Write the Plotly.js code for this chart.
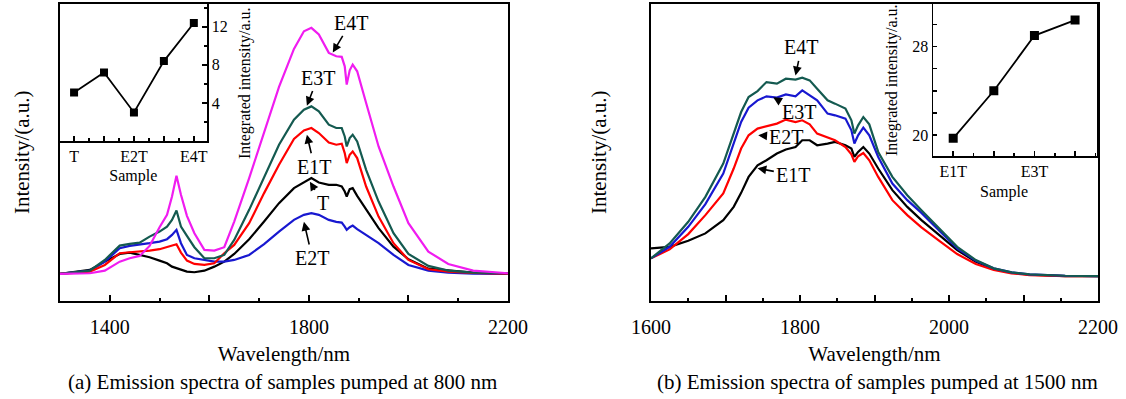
<!DOCTYPE html>
<html>
<head>
<meta charset="utf-8">
<script src="https://cdn.plot.ly/plotly-3.0.1.min.js"></script>
<style>html,body{margin:0;padding:0;background:#fff;}#chart{width:1126px;height:399px;}</style>
</head>
<body>
<div id="chart"></div>
<script>
// ---------- Panel (a): pumped at 800 nm ----------
const wavelengthA = [1300,1360,1390,1420,1440,1460,1480,1500,1515,1525,1534,1543,1555,1570,1590,1610,1630,1650,1680,1710,1740,1770,1790,1805,1820,1840,1855,1866,1872,1876,1882,1888,1897,1915,1940,1970,2000,2040,2080,2130,2200];
const a_T   = [0,4,12.3,20,21.3,19,16.7,13.3,10.7,7.3,5.7,4,2.3,1.7,3.3,7.3,12.3,20,34.7,52.3,70.7,85.7,91.3,95.7,91.3,89,89,87.3,82.3,77.3,84.7,85.7,78,64,45.7,27.3,14.7,5.3,3.3,1.3,0];
const a_E1T = [0,2.3,9,20.7,21.7,22.3,23.3,24.7,26.7,28,29.7,21.3,13.3,10,9,10.7,20.7,29,50.7,80.7,109,134.7,143.3,145.7,140.7,131.3,129,130,120.7,110.7,119,122.3,115.7,87.3,57.3,30.7,14,4.7,2.3,1,0.3];
const a_E2T = [0,3.3,12.3,25.7,28,29,30.7,32.3,34.7,39,44,30.7,19,15.7,14,12.3,12.3,14,19,29.7,42.3,54,59,60.7,59,54,52,51.3,47.3,44,46.7,48.3,44.7,39,30.7,19,9,3.3,1.3,0.3,0];
const a_E3T = [0,3.3,14,28.3,30,31.3,37.3,42.3,47.3,54,63.3,47.3,38,26.7,15.7,15.7,19,34,64,97.3,129,154,164,167.3,162.3,149,145.7,145.7,137.3,127.3,135.7,139,132.3,104,72.3,40.7,20,8,3.3,1.3,0.7];
const a_E4T = [0,0.7,3.3,12.3,15.7,18,28,46.7,59,77.3,98,79,58,40.7,24,23.3,26.7,52.3,95.7,142.3,186.7,224.7,242.3,245.7,239,220.7,217.3,216.7,207.3,189,203.3,209,202.3,170.7,127.3,87.3,50.7,22.3,10,3.3,0.7];

// inset (a)
const samplesA = ['T','E1T','E2T','E3T','E4T'];
const integratedA = [5.1, 7.2, 3.0, 8.4, 12.4];

// ---------- Panel (b): pumped at 1500 nm ----------
const wavelengthB = [1600,1625,1650,1673,1697,1711,1721,1731,1743,1755,1769,1781,1794,1803,1813,1823,1837,1847,1861,1869,1873,1878,1885,1893,1905,1924,1944,1963,1987,2011,2036,2060,2084,2108,2156,2200];
const b_E1T = [27.7,29.3,35.3,42.7,56,69.3,83.3,99.3,111,116,122.7,126.7,129.3,136,136,131,132.7,134.3,131,127.7,119.3,124.3,129.3,122.7,107.7,86,69.3,56,41,26,14.3,7,3.3,1.3,0,0];
const b_E2T = [17.7,26.7,42,61,82.7,107.7,127.7,141,147.7,150,152.7,156.7,154.3,156,152,142.7,138.7,136,129.3,122,114.3,120,123.3,116,99.3,76,61,48.7,35.3,22,12,6,2.7,1,0,0];
const b_E3T = [17.7,29.3,49.3,72,102.7,132,154.3,168.7,176,180,178.7,182,180,186,181,176,162.7,161,157.7,146,132.7,141,148.7,141,119.3,92.7,76,63.3,45.3,27.7,15.3,7.7,3.7,1.7,0.3,0];
const b_E4T = [17.7,32.7,54.3,79.3,112.7,142.7,164.3,179.3,185.3,194.3,192.7,197.7,196.7,198.7,196,187.7,176,172.7,167.7,156,142.7,151,159.3,152,124.3,99.3,81,66,47.7,29.3,16,7.7,3.7,1.7,0.3,0];

// inset (b)
const samplesB = ['E1T','E2T','E3T','E4T'];
const integratedB = [19.7, 24.0, 29.0, 30.4];

// tick labels
const tickA = [1400,1600,1800,2000,2200];
const tickTextA = ['1400','','1800','','2200'];
const tickB = [1600,1700,1800,1900,2000,2100,2200];
const tickTextB = ['1600','','1800','','2000','','2200'];

const COL = {T:'#000000', E1T:'#ff0000', E2T:'#1818d0', E3T:'#145a50', E4T:'#f01cf0'};
const FONT = 'Liberation Serif, Times New Roman, serif';

function line(x, y, name, color, xa, ya) {
  return {x:x, y:y, name:name, type:'scatter', mode:'lines', xaxis:xa, yaxis:ya,
          line:{color:color, width:2.2}, hoverinfo:'x+y+name'};
}

const traces = [
  line(wavelengthA, a_T,   'T',   COL.T,   'x', 'y'),
  line(wavelengthA, a_E2T, 'E2T', COL.E2T, 'x', 'y'),
  line(wavelengthA, a_E1T, 'E1T', COL.E1T, 'x', 'y'),
  line(wavelengthA, a_E3T, 'E3T', COL.E3T, 'x', 'y'),
  line(wavelengthA, a_E4T, 'E4T', COL.E4T, 'x', 'y'),
  {x: samplesA.map((s,i)=>i), y: integratedA, text: samplesA, type:'scatter', mode:'lines+markers',
   xaxis:'x2', yaxis:'y2', line:{color:'#000', width:1.8}, marker:{symbol:'square', size:8, color:'#000'}, name:'Integrated (a)'},
  line(wavelengthB, b_E1T, 'E1T', COL.T,   'x3', 'y3'),
  line(wavelengthB, b_E2T, 'E2T', COL.E1T, 'x3', 'y3'),
  line(wavelengthB, b_E3T, 'E3T', COL.E2T, 'x3', 'y3'),
  line(wavelengthB, b_E4T, 'E4T', COL.E3T, 'x3', 'y3'),
  {x: samplesB.map((s,i)=>i), y: integratedB, text: samplesB, type:'scatter', mode:'lines+markers',
   xaxis:'x4', yaxis:'y4', line:{color:'#000', width:1.8}, marker:{symbol:'square', size:9, color:'#000'}, name:'Integrated (b)'}
];

const W = 1126, H = 399;
const px = v => v / W;
const py = v => 1 - v / H;

const frame = {showline:true, mirror:true, linecolor:'#000', linewidth:2, showgrid:false, zeroline:false};
const tf = {family:FONT, size:20, color:'#000'};
const tfs = {family:FONT, size:16, color:'#000'};

const layout = {
  width:W, height:H, showlegend:false,
  margin:{l:0, r:0, t:0, b:0},
  paper_bgcolor:'#fff', plot_bgcolor:'rgba(0,0,0,0)',
  font:{family:FONT, color:'#000'},
  xaxis: Object.assign({}, frame, {domain:[px(60), px(508)], range:[1300,2200], anchor:'y',
    tickmode:'array', tickvals:tickA, ticktext:tickTextA, ticks:'inside', ticklen:6, tickwidth:2, tickcolor:'#000',
    minor:{dtick:100, ticks:'inside', ticklen:3, tickwidth:2, tickcolor:'#000'},
    tickfont:tf, ticklabelstandoff:7,
    title:{text:'Wavelength/nm', font:{family:FONT, size:21, color:'#000'}, standoff:9}}),
  yaxis: Object.assign({}, frame, {domain:[py(301), py(3.5)], range:[-27,270], anchor:'x',
    ticks:'', showticklabels:false,
    title:{text:'Intensity/(a.u.)', font:{family:FONT, size:21, color:'#000'}, standoff:23}}),
  xaxis2: Object.assign({}, frame, {domain:[px(60), px(206.7)], range:[-0.47, 4.43], anchor:'y2',
    tickmode:'array', tickvals:[0,1,2,3,4], ticktext:['T','','E2T','','E4T'], ticks:'inside', ticklen:5, tickwidth:1.5, tickcolor:'#000',
    minor:{dtick:0.5, ticks:'inside', ticklen:3, tickwidth:1.5, tickcolor:'#000'},
    tickfont:tfs, linewidth:1.8,
    title:{text:'Sample', font:tfs, standoff:6}}),
  yaxis2: Object.assign({}, frame, {domain:[py(141), py(3.5)], range:[0, 14.45], anchor:'x2', side:'right',
    tickmode:'array', tickvals:[4,8,12], ticks:'inside', ticklen:5, tickwidth:1.5, tickcolor:'#000',
    minor:{dtick:2, ticks:'inside', ticklen:3, tickwidth:1.5, tickcolor:'#000'},
    tickfont:tfs, linewidth:1.8}),
  xaxis3: Object.assign({}, frame, {domain:[px(651), px(1098)], range:[1600,2200], anchor:'y3',
    tickmode:'array', tickvals:tickB, ticktext:tickTextB, ticks:'inside', ticklen:6, tickwidth:2, tickcolor:'#000',
    minor:{dtick:50, ticks:'inside', ticklen:3, tickwidth:2, tickcolor:'#000'},
    tickfont:tf, ticklabelstandoff:7,
    title:{text:'Wavelength/nm', font:{family:FONT, size:21, color:'#000'}, standoff:9}}),
  yaxis3: Object.assign({}, frame, {domain:[py(301), py(3.5)], range:[-25,273], anchor:'x3',
    ticks:'', showticklabels:false,
    title:{text:'Intensity/(a.u.)', font:{family:FONT, size:21, color:'#000'}, standoff:37}}),
  xaxis4: Object.assign({}, frame, {domain:[px(933.3), px(1097)], range:[-0.49, 3.54], anchor:'y4',
    tickmode:'array', tickvals:[0,1,2,3], ticktext:['E1T','','E3T',''], ticks:'inside', ticklen:5, tickwidth:1.5, tickcolor:'#000',
    minor:{dtick:0.5, ticks:'inside', ticklen:3, tickwidth:1.5, tickcolor:'#000'},
    tickfont:tfs, linewidth:1.8}),
  yaxis4: Object.assign({}, frame, {domain:[py(156), py(3.5)], range:[18.1, 31.9], anchor:'x4', side:'left',
    tickmode:'array', tickvals:[20,22,24,26,28,30], ticktext:['20','','','','28',''], ticks:'inside', ticklen:4, tickwidth:1.5, tickcolor:'#000',
    tickfont:tfs, linewidth:1.8}),
  annotations: [
    // panel (a) labels
    {xref:'x', yref:'y', x:1848, y:221, ax:1884, ay:251, axref:'x', ayref:'y', text:'E4T'},
    {xref:'x', yref:'y', x:1796, y:168, ax:1818, ay:196, axref:'x', ayref:'y', text:'E3T'},
    {xref:'x', yref:'y', x:1796, y:139, ax:1811, ay:107, axref:'x', ayref:'y', text:'E1T'},
    {xref:'x', yref:'y', x:1802, y:92,  ax:1828, ay:71,  axref:'x', ayref:'y', text:'T'},
    {xref:'x', yref:'y', x:1790, y:52,  ax:1807, ay:16,  axref:'x', ayref:'y', text:'E2T'},
    // panel (b) labels
    {xref:'x3', yref:'y3', x:1794, y:201, ax:1802, ay:229, axref:'x3', ayref:'y3', text:'E4T'},
    {xref:'x3', yref:'y3', x:1764, y:179, ax:1798, ay:164, axref:'x3', ayref:'y3', text:'E3T'},
    {xref:'x3', yref:'y3', x:1744, y:141, ax:1781, ay:139, axref:'x3', ayref:'y3', text:'E2T'},
    {xref:'x3', yref:'y3', x:1743, y:108, ax:1791, ay:101, axref:'x3', ayref:'y3', text:'E1T'},
    // inset titles
    {xref:'paper', yref:'paper', x:px(245), y:py(83), xanchor:'center', yanchor:'middle', showarrow:false, textangle:-90,
     text:'Integrated intensity/a.u.', font:tfs},
    {xref:'paper', yref:'paper', x:px(892), y:py(80), xanchor:'center', yanchor:'middle', showarrow:false, textangle:-90,
     text:'Integrated intensity/a.u.', font:tfs},
    {xref:'paper', yref:'paper', x:px(1004), y:py(192), xanchor:'center', yanchor:'middle', showarrow:false,
     text:'Sample', font:tfs},
    // captions
    {xref:'paper', yref:'paper', x:px(282), y:py(382), xanchor:'center', yanchor:'middle', showarrow:false,
     text:'(a) Emission spectra of samples pumped at 800 nm', font:{family:FONT, size:21, color:'#000'}},
    {xref:'paper', yref:'paper', x:px(877), y:py(382), xanchor:'center', yanchor:'middle', showarrow:false,
     text:'(b) Emission spectra of samples pumped at 1500 nm', font:{family:FONT, size:21, color:'#000'}}
  ].map(a => a.showarrow === false ? a : Object.assign({showarrow:true, arrowhead:2, arrowsize:1.1, arrowwidth:1.6,
      arrowcolor:'#000', standoff:0, startstandoff:1, font:{family:FONT, size:20, color:'#000'}}, a))
};

Plotly.newPlot('chart', traces, layout, {staticPlot:true, displayModeBar:false});
</script>
</body>
</html>
